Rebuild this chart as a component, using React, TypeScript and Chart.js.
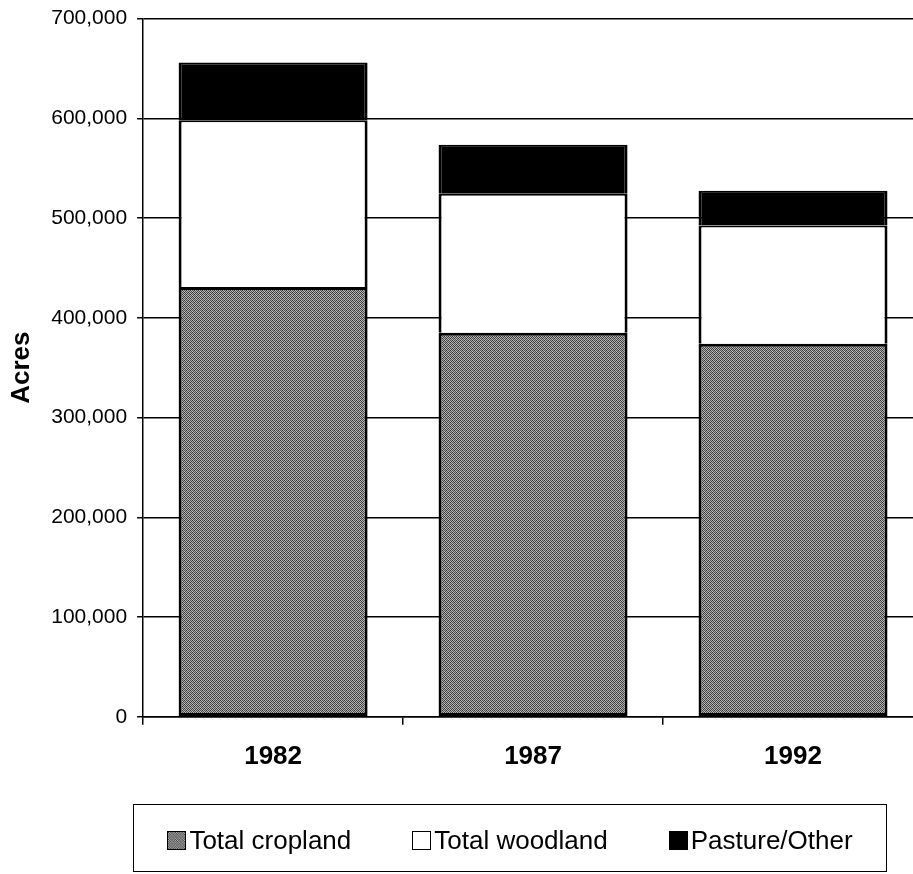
import React, { useEffect, useRef } from "react";
import { Chart, registerables } from "chart.js";

Chart.register(...registerables);

const categories = ["1982", "1987", "1992"];
const seriesLabels = ["Total cropland", "Total woodland", "Pasture/Other"];
const cropland = [431000, 385000, 374000];
const woodland = [167000, 139500, 118500];
const pasture = [58000, 49000, 35000];
const yTickLabels = ["0", "100,000", "200,000", "300,000", "400,000", "500,000", "600,000", "700,000"];

const FONT = "'Liberation Sans', Arial, Helvetica, sans-serif";

function makeHalftone(): CanvasPattern | string {
  const c = document.createElement("canvas");
  c.width = 4;
  c.height = 4;
  const g = c.getContext("2d");
  if (!g) return "#7a7a7a";
  const shades = [
    ["#303030", "#bcbcbc", "#4e4e4e", "#a8a8a8"],
    ["#b0b0b0", "#404040", "#c4c4c4", "#3a3a3a"],
    ["#565656", "#a0a0a0", "#2e2e2e", "#b8b8b8"],
    ["#c0c0c0", "#464646", "#acacac", "#4e4e4e"],
  ];
  for (let y = 0; y < 4; y++) {
    for (let x = 0; x < 4; x++) {
      g.fillStyle = shades[y][x];
      g.fillRect(x, y, 1, 1);
    }
  }
  const p = g.createPattern(c, "repeat");
  return p || "#7a7a7a";
}

export default function App() {
  const canvasRef = useRef<HTMLCanvasElement | null>(null);
  const cropSwatchRef = useRef<HTMLCanvasElement | null>(null);

  useEffect(() => {
    const canvas = canvasRef.current;
    if (!canvas) return;
    const halftone = makeHalftone();
    const fills = [halftone, "#ffffff", "#000000"];
    const borders = [
      { top: 3, left: 3, right: 3, bottom: 3 },
      { top: 2, left: 3, right: 3, bottom: 0 },
      { top: 2, left: 3, right: 3, bottom: 0 },
    ];
    const values = [cropland, woodland, pasture];

    const sw = cropSwatchRef.current;
    if (sw) {
      const g = sw.getContext("2d");
      if (g) {
        g.fillStyle = halftone as any;
        g.fillRect(0, 0, sw.width, sw.height);
      }
    }

    const chart = new Chart(canvas, {
      type: "bar",
      data: {
        labels: categories,
        datasets: seriesLabels.map((label, i) => ({
          label,
          data: values[i],
          backgroundColor: fills[i] as any,
          borderColor: "#000000",
          borderWidth: borders[i] as any,
          borderSkipped: false,
          categoryPercentage: 1,
          barPercentage: 0.727,
        })),
      },
      options: {
        animation: false,
        responsive: false,
        devicePixelRatio: 1,
        layout: { padding: { left: 0, top: 14, right: 3, bottom: 82 } },
        plugins: {
          legend: { display: false },
          tooltip: { enabled: false },
        },
        scales: {
          x: {
            stacked: true,
            offset: true,
            grid: {
              display: true,
              drawOnChartArea: false,
              drawTicks: true,
              tickLength: 8,
              color: "#000000",
              lineWidth: 1.5,
              offset: true,
            },
            border: { display: true, color: "#000000", width: 1.5 },
            ticks: {
              color: "#000000",
              padding: 16,
              font: { family: FONT, size: 26, weight: "bold" },
            },
          },
          y: {
            stacked: true,
            min: 0,
            max: 700000,
            ticks: {
              stepSize: 100000,
              color: "#000000",
              padding: 10,
              font: { family: FONT, size: 21 },
              callback: (_v: any, idx: number) => yTickLabels[idx],
            },
            grid: { color: "#000000", lineWidth: 1.5, tickLength: 6 },
            border: { display: true, color: "#000000", width: 1.5 },
            title: {
              display: true,
              text: "Acres",
              color: "#000000",
              font: { family: FONT, size: 26, weight: "bold" },
              padding: { top: 6, bottom: 4 },
            },
          },
        },
      },
    });
    return () => chart.destroy();
  }, []);

  const swatchBase: React.CSSProperties = {
    width: 19,
    height: 19,
    boxSizing: "border-box",
    border: "1.5px solid #000",
    marginRight: 3,
    flex: "0 0 auto",
  };

  return (
    <div
      style={{
        position: "fixed",
        left: 0,
        top: 0,
        width: 913,
        height: 874,
        overflow: "hidden",
        background: "#ffffff",
        fontFamily: FONT,
      }}
    >
      <canvas
        ref={canvasRef}
        width={926}
        height={874}
        style={{ display: "block", position: "absolute", left: 0, top: -4, width: 926, height: 874 }}
      />
      <div
        style={{
          position: "absolute",
          left: 133,
          top: 804,
          width: 754,
          height: 68,
          boxSizing: "border-box",
          border: "1.5px solid #000",
          display: "flex",
          justifyContent: "center",
          alignItems: "center",
          gap: 61,
          paddingTop: 4,
        }}
      >
        {seriesLabels.map((label, i) => (
          <div key={label} style={{ display: "flex", alignItems: "center" }}>
            {i === 0 ? (
              <canvas ref={cropSwatchRef} width={19} height={19} style={{ ...swatchBase }} />
            ) : (
              <div style={{ ...swatchBase, background: i === 1 ? "#fff" : "#000" }} />
            )}
            <span style={{ fontSize: 26, color: "#000", lineHeight: "30px", whiteSpace: "nowrap" }}>{label}</span>
          </div>
        ))}
      </div>
    </div>
  );
}
